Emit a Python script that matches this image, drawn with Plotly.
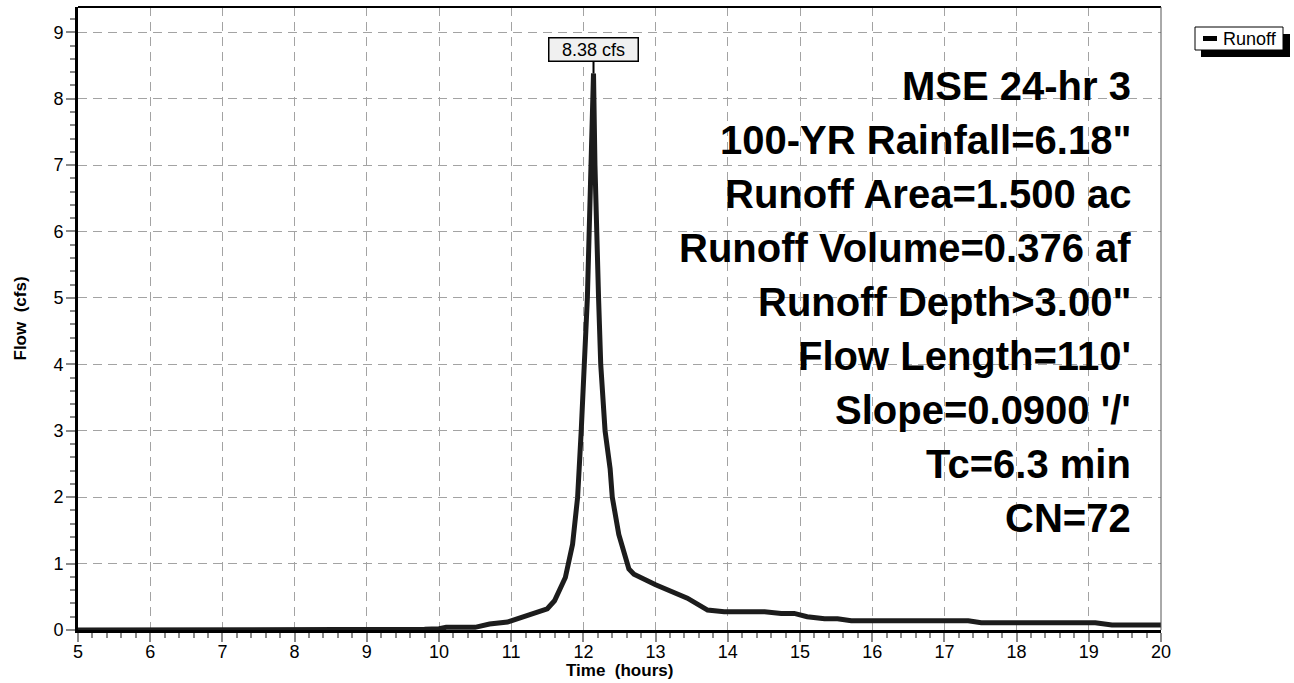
import plotly.graph_objects as go

# Runoff hydrograph (hours vs cfs)
time_hr = [5.0, 9.0, 9.8, 10.0, 10.1, 10.5, 10.7, 10.95, 11.2, 11.5, 11.6, 11.75,
           11.85, 11.92, 11.97, 12.02, 12.055, 12.08, 12.10, 12.14, 12.16, 12.18,
           12.21, 12.24, 12.30, 12.37, 12.40, 12.49, 12.63, 12.70, 13.0, 13.44,
           13.63, 13.72, 13.95, 14.51, 14.74, 14.92, 15.1, 15.34, 15.52, 15.71,
           17.33, 17.51, 19.09, 19.32, 20.0]
flow_cfs = [0.0, 0.0, 0.01, 0.02, 0.04, 0.04, 0.09, 0.12, 0.21, 0.32, 0.44, 0.79,
            1.29, 2.0, 3.0, 4.0, 5.0, 6.0, 7.0, 8.38, 7.0, 6.0,
            5.0, 4.0, 3.0, 2.43, 2.0, 1.44, 0.92, 0.84, 0.68, 0.48,
            0.35, 0.30, 0.275, 0.275, 0.25, 0.25, 0.2, 0.17, 0.17, 0.14,
            0.14, 0.11, 0.11, 0.075, 0.075]

peak_time = 12.14
peak_flow = 8.38

x_ticks = list(range(5, 21))
y_ticks = list(range(0, 10))

info_lines = [
    "MSE 24-hr 3",
    "100-YR Rainfall=6.18\"",
    "Runoff Area=1.500 ac",
    "Runoff Volume=0.376 af",
    "Runoff Depth>3.00\"",
    "Flow Length=110'",
    "Slope=0.0900 '/'",
    "Tc=6.3 min",
    "CN=72",
]

W, H = 1294, 683
ML, MR, MT, MB = 78, 133, 7, 53
PW, PH = W - ML - MR, H - MT - MB
FONT = "Liberation Sans, Arial, sans-serif"


def px_x(px):
    return (px - ML) / PW


def px_y(py):
    return (H - MB - py) / PH


fig = go.Figure()
fig.add_trace(go.Scatter(
    x=time_hr, y=flow_cfs, mode="lines", name="Runoff",
    line=dict(color="#1c1c1c", width=5), showlegend=False,
))

grid_kw = dict(showgrid=True, gridcolor="#a3a3a3", gridwidth=1, griddash="9px,6px",
               zeroline=False, showline=True, linecolor="black", linewidth=3,
               ticks="outside", ticklen=9, tickwidth=1.5, tickcolor="#8a8a8a",
               tickfont=dict(family=FONT, size=18, color="black"),
               minor=dict(ticks="outside", ticklen=5, tickwidth=1.5, tickcolor="#8a8a8a",
                          showgrid=False))

fig.update_xaxes(range=[5, 20], tickvals=x_ticks, minor_dtick=0.2, ticklabelstandoff=-6,
                 **grid_kw)
fig.update_yaxes(range=[0, 9.38], tickvals=y_ticks, minor_dtick=0.2, ticklabelstandoff=-1,
                 **grid_kw)

# peak label
fig.add_annotation(x=peak_time, y=peak_flow, text=f"{peak_flow:.2f} cfs",
                   showarrow=True, arrowhead=0, arrowwidth=2, arrowcolor="black",
                   ax=0, ay=-24, font=dict(family=FONT, size=18, color="black"),
                   bgcolor="#f0f0f0", bordercolor="black", borderwidth=1.5, borderpad=1,
                   width=86)

# summary text block
for i, line in enumerate(info_lines):
    fig.add_annotation(xref="paper", yref="paper", x=px_x(1133), y=px_y(86 + i * 54),
                       xanchor="right", yanchor="middle", showarrow=False, text=f"<b>{line}</b>",
                       font=dict(family=FONT, size=40, color="black"))

# axis titles
fig.add_annotation(xref="paper", yref="paper", x=0.5, y=px_y(670), xanchor="center",
                   yanchor="middle", showarrow=False, text="<b>Time  (hours)</b>",
                   font=dict(family=FONT, size=17, color="black"))
fig.add_annotation(xref="paper", yref="paper", x=px_x(20), y=0.5, xanchor="center",
                   yanchor="middle", showarrow=False, text="<b>Flow  (cfs)</b>", textangle=-90,
                   font=dict(family=FONT, size=17, color="black"))

shapes = [
    # frame top and right
    dict(type="line", xref="paper", yref="paper", x0=0, x1=1, y0=1, y1=1,
         line=dict(color="black", width=2)),
    dict(type="line", xref="paper", yref="paper", x0=1, x1=1, y0=0, y1=1,
         line=dict(color="#555555", width=1)),
    # legend shadow and box
    dict(type="rect", xref="paper", yref="paper", x0=px_x(1201), x1=px_x(1290),
         y0=px_y(57), y1=px_y(34), fillcolor="black", line=dict(width=0)),
    dict(type="rect", xref="paper", yref="paper", x0=px_x(1195), x1=px_x(1283),
         y0=px_y(50), y1=px_y(27), fillcolor="white", line=dict(color="black", width=1)),
    dict(type="line", xref="paper", yref="paper", x0=px_x(1203), x1=px_x(1217),
         y0=px_y(38.5), y1=px_y(38.5), line=dict(color="black", width=5)),
]
fig.add_annotation(xref="paper", yref="paper", x=px_x(1221), y=px_y(38.5), xanchor="left",
                   yanchor="middle", showarrow=False, text="Runoff",
                   font=dict(family=FONT, size=18, color="black"))

fig.update_layout(
    width=W, height=H, margin=dict(l=ML, r=MR, t=MT, b=MB),
    paper_bgcolor="white", plot_bgcolor="white", shapes=shapes,
    showlegend=False,
)

fig.write_html("out.html")
